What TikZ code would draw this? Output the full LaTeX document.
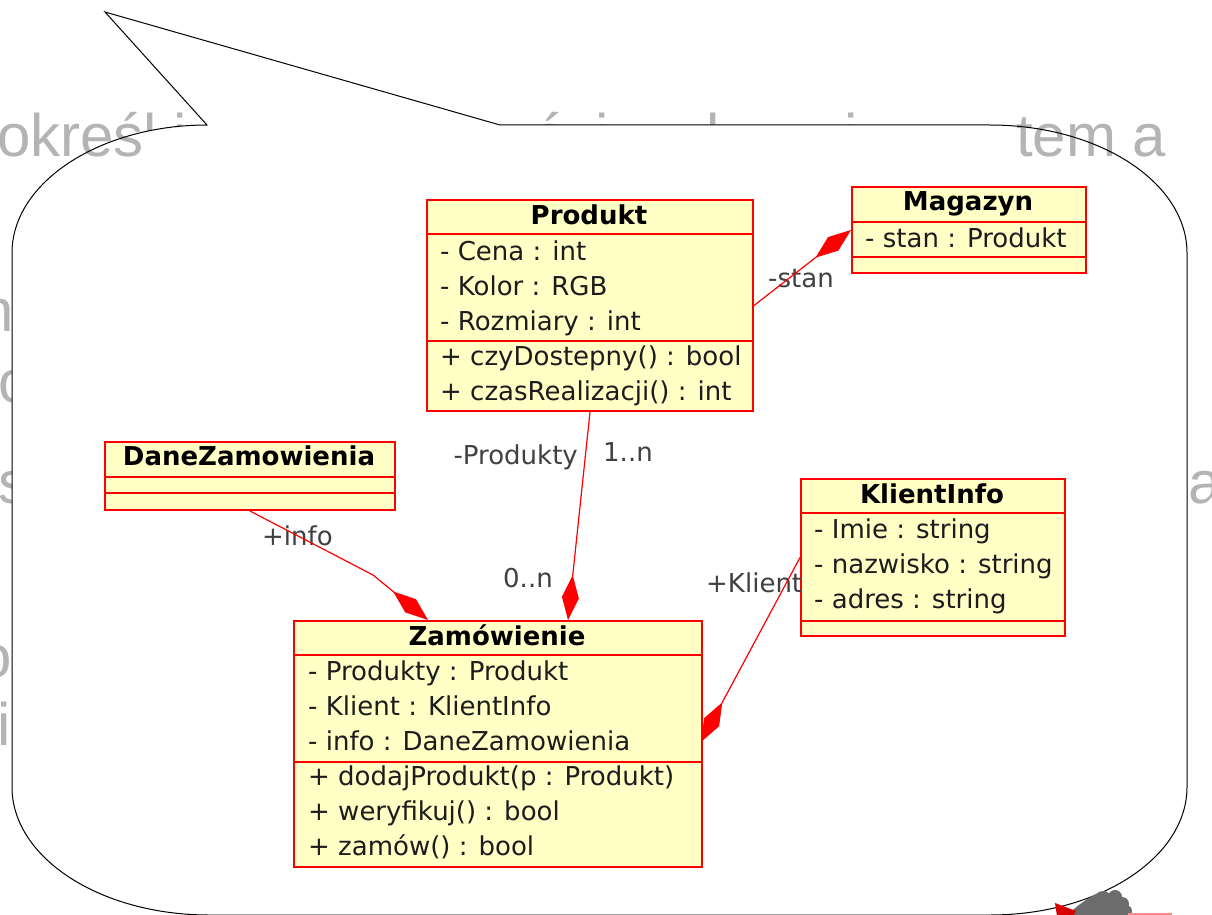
\documentclass[tikz,border=0pt]{standalone}
\usepackage{fontspec}
\setmainfont{DejaVu Sans}
\newfontfamily\bgfont{Liberation Sans}
\usetikzlibrary{arrows.meta,calc}
\definecolor{umlred}{RGB}{255,0,0}
\definecolor{umlfill}{RGB}{255,255,198}
\definecolor{membertext}{RGB}{28,28,28}
\definecolor{lbltext}{RGB}{64,64,64}
\definecolor{bggray}{RGB}{180,180,180}
\definecolor{blobgray}{RGB}{108,108,108}
\tikzset{
  bgtxt/.style={font=\bgfont\fontsize{60pt}{60pt}\selectfont, text=bggray, anchor=base west, inner sep=0pt},
  classbox/.style={draw=umlred, line width=2pt, fill=umlfill, inner sep=0pt, anchor=north west},
  title/.style={font=\bfseries\fontsize{26pt}{30pt}\selectfont, text=black, anchor=base, inner sep=0pt},
  member/.style={font=\fontsize{26pt}{30pt}\selectfont, text=membertext, anchor=base west, inner sep=0pt},
  divider/.style={draw=umlred, line width=2pt},
  assoc/.style={draw=umlred, line width=1.2pt},
  comp/.style={assoc, -{Diamond[length=45pt,width=17pt]}},
  lbl/.style={font=\fontsize{26pt}{30pt}\selectfont, text=lbltext, inner sep=0pt},
  bubbleline/.style={draw=black, line width=1pt},
}
\begin{document}
\begin{tikzpicture}[x=1pt,y=-1pt]
\useasboundingbox (0,0) rectangle (1212,915);
\clip (0,0) rectangle (1212,915);
\fill[white] (0,0) rectangle (1212,915);

% background text that the bubble covers
\node[bgtxt] (bg1b) at (143.7,157) {l i};
\node[bgtxt] (bg2) at (533,157) {ó};
\node[bgtxt] (bg3) at (595.5,157) {i};
\node[bgtxt] (bg4) at (706.5,157) {l};
\node[bgtxt] (bg5) at (844,157) {i};
\node[bgtxt] (bg7) at (-20,331) {n};
\node[bgtxt] (bg8) at (-2,402) {o};
\node[bgtxt] (bg9) at (-2,503) {s};
\node[bgtxt] (bg10) at (1188,503) {a};
\node[bgtxt] (bg11) at (-22,677) {o};
\node[bgtxt] (bg12) at (-3,745) {i};

% callout bubble: white fill
\fill[white] (500,125) -- (990,125)
  .. controls (1098.8,125) and (1187,182.3) .. (1187,253)
  -- (1187,787)
  .. controls (1187,857.7) and (1098.8,915) .. (990,915)
  -- (209,915)
  .. controls (100.2,915) and (12,857.7) .. (12,787)
  -- (12,253)
  .. controls (12,182.3) and (100.2,125) .. (207,125)
  -- (105,12) -- cycle;

% background text that stays visible over the bubble
\node[bgtxt] (bg1) at (-3,157) {okreś};
\node[bgtxt] (bg6) at (1016,157) {tem a};

% callout bubble: outline
\draw[bubbleline] (500,125) -- (990,125)
  .. controls (1098.8,125) and (1187,182.3) .. (1187,253)
  -- (1187,787)
  .. controls (1187,857.7) and (1098.8,915) .. (990,915)
  -- (209,915)
  .. controls (100.2,915) and (12,857.7) .. (12,787)
  -- (12,253)
  .. controls (12,182.3) and (100.2,125) .. (207,125)
  -- (105,12) -- cycle;

% clipart fragment at the bottom right
\fill[blobgray] (1066,916) .. controls (1078,905) and (1090,896) .. (1101,892) -- (1128,905) -- (1131,916) -- cycle;
\fill[blobgray] (1103,900) circle (9);
\fill[blobgray] (1115,897) circle (7);
\fill[blobgray] (1122,904) circle (7);
\fill[blobgray] (1126,911) circle (6);
\fill[red!85!black] (1055,903) -- (1076,911) -- (1073,916) -- (1057,916) -- cycle;
\draw[red!45, line width=2pt] (1128,914) -- (1172,914);

% ---------- Produkt ----------
\node[classbox, minimum width=326pt, minimum height=211pt] (prod) at (426,199) {};
\draw[divider] ($(prod.north west)+(0,35)$) -- ($(prod.north east)+(0,35)$);
\draw[divider] ($(prod.north west)+(0,142)$) -- ($(prod.north east)+(0,142)$);
\node[title] (prodT) at (589,224) {Produkt};
\node[member] (prod1) at (440,260) {- Cena : int};
\node[member] (prod2) at (440,295) {- Kolor : RGB};
\node[member] (prod3) at (440,330) {- Rozmiary : int};
\node[member] (prod4) at (440,365) {+ czyDostepny() : bool};
\node[member] (prod5) at (440,400) {+ czasRealizacji() : int};

% ---------- Magazyn ----------
\node[classbox, minimum width=234pt, minimum height=86pt] (mag) at (851,186) {};
\draw[divider] ($(mag.north west)+(0,36)$) -- ($(mag.north east)+(0,36)$);
\draw[divider] ($(mag.north west)+(0,71)$) -- ($(mag.north east)+(0,71)$);
\node[title] (magT) at (968,210) {Magazyn};
\node[member] (mag1) at (865,247) {- stan : Produkt};

% ---------- DaneZamowienia ----------
\node[classbox, minimum width=290pt, minimum height=68pt] (dane) at (104,441) {};
\draw[divider] ($(dane.north west)+(0,36)$) -- ($(dane.north east)+(0,36)$);
\draw[divider] ($(dane.north west)+(0,52)$) -- ($(dane.north east)+(0,52)$);
\node[title] (daneT) at (249,465) {DaneZamowienia};

% ---------- KlientInfo ----------
\node[classbox, minimum width=264pt, minimum height=157pt] (klient) at (800,478) {};
\draw[divider] ($(klient.north west)+(0,35)$) -- ($(klient.north east)+(0,35)$);
\draw[divider] ($(klient.north west)+(0,143)$) -- ($(klient.north east)+(0,143)$);
\node[title] (klientT) at (932,503) {KlientInfo};
\node[member] (kl1) at (814,538) {- Imie : string};
\node[member] (kl2) at (814,573) {- nazwisko : string};
\node[member] (kl3) at (814,608) {- adres : string};

% ---------- Zamowienie ----------
\node[classbox, minimum width=408pt, minimum height=246pt] (zam) at (293,620) {};
\draw[divider] ($(zam.north west)+(0,35)$) -- ($(zam.north east)+(0,35)$);
\draw[divider] ($(zam.north west)+(0,142)$) -- ($(zam.north east)+(0,142)$);
\node[title] (zamT) at (497,645) {Zamówienie};
\node[member] (zam1) at (308,680) {- Produkty : Produkt};
\node[member] (zam2) at (308,715) {- Klient : KlientInfo};
\node[member] (zam3) at (308,750) {- info : DaneZamowienia};
\node[member] (zam4) at (308,785) {+ dodajProdukt(p : Produkt)};
\node[member] (zam5) at (308,820) {+ weryfikuj() : bool};
\node[member] (zam6) at (308,855) {+ zamów() : bool};

% ---------- connectors ----------
\coordinate (zamP) at (568,620);
\coordinate (infoBend) at (373,575);
\coordinate (zamI) at (428,620);
\coordinate (zamK) at (701,742);

\node[lbl, anchor=base] (lstan) at (801,287) {-stan};
\node[lbl, anchor=base east] (lprod) at (578,464) {-Produkty};
\node[lbl, anchor=base west] (l1n) at (603,461) {1..n};
\node[lbl, anchor=base west] (l0n) at (503,587) {0..n};
\node[lbl, anchor=base west] (linfo) at (262,545) {+info};
\node[lbl, anchor=base west] (lkl) at (706,592) {+Klient};

\draw[comp] (prod.east) -- (mag.west);
\draw[comp] (prod.south) -- (zamP);
\draw[comp] (dane.south) -- (infoBend) -- (zamI);
\draw[comp] (klient.west) -- (zamK);
\end{tikzpicture}
\end{document}
